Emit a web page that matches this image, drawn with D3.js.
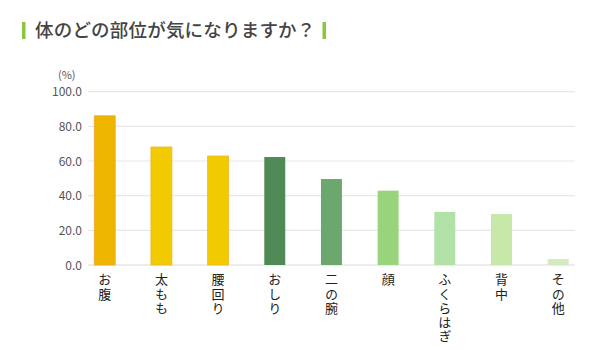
<!DOCTYPE html>
<html><head><meta charset="utf-8">
<script src="https://cdn.jsdelivr.net/npm/d3@7"></script>
<style>
html,body{margin:0;padding:0;background:#fff;}
svg{display:block;font-family:"Noto Sans CJK JP","Noto Sans",sans-serif;}
.vl{writing-mode:vertical-rl;text-orientation:upright;}
</style></head>
<body><svg id="c" width="615" height="350"></svg>
<script>
const title = "体のどの部位が気になりますか？";
const categories = ["お腹","太もも","腰回り","おしり","二の腕","顔","ふくらはぎ","背中","その他"];
const values = [86.1, 68.1, 62.9, 62.3, 49.6, 42.9, 30.6, 29.4, 3.5];
const colors = ["#EEB500","#F2CA00","#F2CA00","#4F8A56","#6CA76E","#99D47C","#B1E1A6","#C7E8A9","#D4EBC1"];
const strokes = ["#F0A830","#F0B530","#F0B530",null,null,null,null,null,null];
const yTicks = [0,20,40,60,80,100];

const svg = d3.select("#c");
const y = d3.scaleLinear().domain([0,100]).range([265,91.7]);
const x = d3.scaleBand().domain(categories).range([76.4,586.5]).paddingInner(0.63).paddingOuter(0.315);

// title
svg.append("rect").attr("x",22).attr("y",22).attr("width",3.5).attr("height",17).attr("fill","#8CC63F");
const t = svg.append("text").attr("x",35).attr("y",37).attr("font-size",18.5).attr("font-weight",500)
  .attr("fill","#444").attr("letter-spacing",0.2).text(title);
const tw = t.node().getComputedTextLength();
svg.append("rect").attr("x",35+tw+7).attr("y",22).attr("width",3.5).attr("height",17).attr("fill","#8CC63F");

// grid
svg.append("g").selectAll("line").data(yTicks).join("line")
  .attr("x1",88).attr("x2",575).attr("y1",d=>y(d)).attr("y2",d=>y(d))
  .attr("stroke",d=>d===0?"#d9d9d9":"#e8e8e8").attr("stroke-width",1.2);

// y labels
svg.append("g").selectAll("text").data(yTicks).join("text")
  .attr("x",82).attr("y",d=>y(d)+4.5).attr("text-anchor","end").attr("font-size",12)
  .attr("fill","#555").text(d=>d.toFixed(1));
svg.append("text").attr("x",58).attr("y",79).attr("font-size",11).attr("fill","#555").text("(%)");

// bars
svg.append("g").selectAll("rect").data(values).join("rect")
  .attr("x",(d,i)=>x(categories[i])).attr("width",x.bandwidth())
  .attr("y",d=>y(d)).attr("height",d=>y(0)-y(d))
  .attr("fill",(d,i)=>colors[i])
  .attr("stroke",(d,i)=>strokes[i]||"none").attr("stroke-width",0.8);

// vertical labels
svg.append("g").selectAll("text").data(categories).join("text")
  .attr("class","vl")
  .attr("x",c=>x(c)+x.bandwidth()/2).attr("y",273)
  .attr("font-size",13).attr("fill","#222").attr("letter-spacing",1.2)
  .text(c=>c);
</script></body></html>
